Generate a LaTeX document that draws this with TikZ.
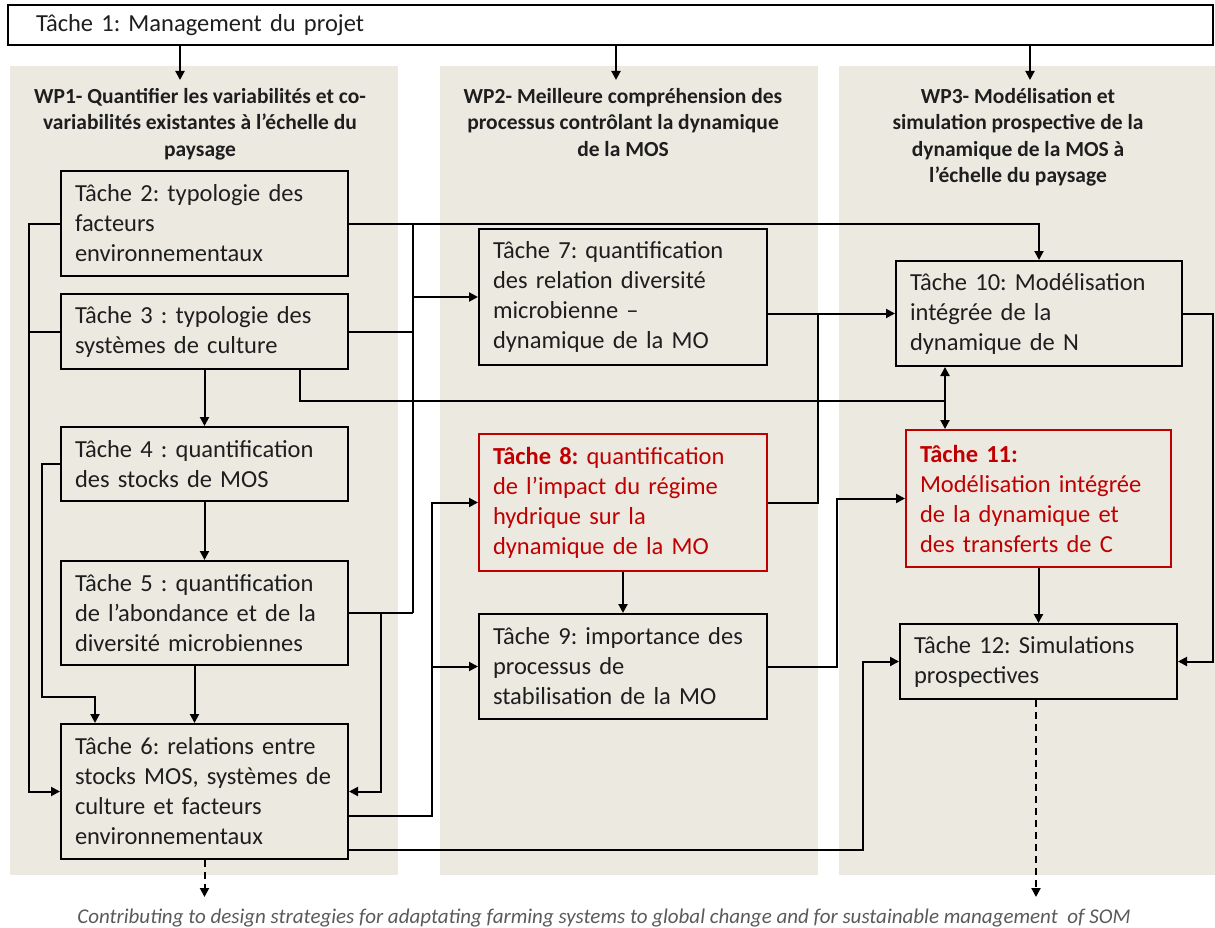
\documentclass[tikz,border=0pt]{standalone}
\usepackage{fontspec}
\setmainfont{Carlito}
\usetikzlibrary{arrows.meta}
\definecolor{panelc}{RGB}{236,233,225}
\definecolor{redc}{RGB}{192,0,0}
\definecolor{txtc}{RGB}{30,30,30}
\definecolor{footc}{RGB}{90,90,90}
\newcommand\tasksize{\fontsize{24.5}{30}\selectfont}
\newcommand\wpsize{\fontsize{21.5}{26.5}\selectfont}
\frenchspacing
\begin{document}
\frenchspacing
\begin{tikzpicture}[x=1pt,y=-1pt,
  task/.style={draw=black, line width=2pt, fill=panelc, inner xsep=14pt, inner ysep=0pt,
    align=left, font=\tasksize\frenchspacing, text=txtc},
  redtask/.style={task, draw=redc, text=redc},
  wptitle/.style={font=\bfseries\wpsize\frenchspacing, align=center, inner sep=0pt, text=txtc, anchor=north},
  line/.style={line width=2pt},
  arr/.style={line, -{Triangle[length=9pt,width=9pt]}},
  arrtwo/.style={line, {Triangle[length=9pt,width=9pt]}-{Triangle[length=9pt,width=9pt]}},
  dasharr/.style={arr, dash pattern=on 7pt off 5pt}]
\useasboundingbox (0,0) rectangle (1215,928);
% panels
\fill[panelc] (10,66) rectangle (398,875);
\fill[panelc] (440,66) rectangle (818,875);
\fill[panelc] (839,66) rectangle (1215,875);
% task 1
\node[task, fill=white, inner xsep=28pt, text width=1149pt, minimum height=40pt] (T1) at (610.5,25) {Tâche 1: Management du projet};
\coordinate (a1) at (180,80);
\coordinate (a2) at (616,80);
\coordinate (a3) at (1030,80);
\draw[arr] (T1.south -| a1) -- (a1);
\draw[arr] (T1.south -| a2) -- (a2);
\draw[arr] (T1.south -| a3) -- (a3);
% WP titles
\node[wptitle] (W1) at (200,88) {WP1- Quantifier les variabilités et co-\\variabilités existantes à l’échelle du\\paysage};
\node[wptitle] (W2) at (623,88) {WP2- Meilleure compréhension des\\processus contrôlant la dynamique\\de la MOS};
\node[wptitle] (W3) at (1018,88) {WP3- Modélisation et\\simulation prospective de la\\dynamique de la MOS à\\l’échelle du paysage};
% WP1 tasks
\node[task, text width=259pt, minimum height=105pt] (T2) at (204.5,223.5) {Tâche 2: typologie des\\facteurs\\environnementaux};
\node[task, text width=259pt, minimum height=75pt] (T3) at (204.5,331.5) {Tâche 3 : typologie des\\systèmes de culture};
\node[task, text width=259pt, minimum height=74pt] (T4) at (204.5,464) {Tâche 4 : quantification\\des stocks de MOS};
\node[task, text width=259pt, minimum height=104pt] (T5) at (204.5,613) {Tâche 5 : quantification\\de l’abondance et de la\\diversité microbiennes};
\node[task, text width=259pt, minimum height=135pt] (T6) at (204.5,791.5) {Tâche 6: relations entre\\stocks MOS, systèmes de\\culture et facteurs\\environnementaux};
% WP2 tasks
\node[task, text width=260pt, minimum height=136pt] (T7) at (623,297) {Tâche 7: quantification\\des relation diversité\\microbienne –\\dynamique de la MO};
\node[redtask, text width=260pt, minimum height=137pt] (T8) at (623,502.5) {\textbf{Tâche 8:} quantification\\de l’impact du régime\\hydrique sur la\\dynamique de la MO};
\node[task, text width=260pt, minimum height=105pt] (T9) at (623,666.5) {Tâche 9: importance des\\processus de\\stabilisation de la MO};
% WP3 tasks
\node[task, text width=258pt, minimum height=105pt] (T10) at (1039,313.5) {Tâche 10: Modélisation\\intégrée de la\\dynamique de N};
\node[redtask, text width=237pt, minimum height=137pt] (T11) at (1038.5,498.5) {\textbf{Tâche 11:}\\Modélisation intégrée\\de la dynamique et\\des transferts de C};
\node[task, text width=249pt, minimum height=75pt] (T12) at (1038.5,661.5) {Tâche 12: Simulations\\prospectives};
% bus coordinates
\coordinate (busA) at (29,0);
\coordinate (busB) at (42,0);
\coordinate (k1) at (95,697);
\coordinate (busC) at (413,0);
\coordinate (busD) at (381,0);
\coordinate (k2) at (945,401);
\coordinate (busE) at (818,0);
\coordinate (busF) at (432,0);
\coordinate (busG) at (863,0);
\coordinate (busH) at (837,0);
\coordinate (busI) at (1213,0);
\coordinate (r816) at (0,816);
\coordinate (r850) at (0,850);
\coordinate (e1) at (0,897);
% WP1 internal
\draw[arr] (T2.west) -- (T2.west -| busA) |- (T6.west);
\draw[line] (T3.west) -- (T3.west -| busA);
\draw[arr] (T4.west) -- (T4.west -| busB) |- (k1) -- (k1 |- T6.north);
\draw[arr] (T3.south) -- (T4.north);
\draw[arr] (T4.south) -- (T5.north);
\draw[arr] ([xshift=-10pt]T5.south) -- ([xshift=-10pt]T6.north);
% T2 to T10 and bus to T7
\draw[arr] (T2.east) -| (T10.north);
\draw[line] (busC |- T2.east) -- (busC |- T5.east);
\draw[line] (T3.east) -- (T3.east -| busC);
\draw[line] (T5.east) -- (T5.east -| busC);
\draw[arr] (busC |- T7.west) -- (T7.west);
\draw[arr] (T5.east -| busD) |- (T6.east);
% T3 to T10/T11
\draw[line] ([xshift=95pt]T3.south) |- (k2);
\draw[arrtwo] ([xshift=-94pt]T10.south) -- ([xshift=-94pt]T10.south |- T11.north);
% T7, T8 to T10
\draw[arr] (T7.east |- T10.west) -- (T10.west);
\draw[line] (T8.east) -| (busE |- T10.west);
\draw[arr] (T8.south) -- (T9.north);
% T6 to T8, T9
\draw[arr] (T6.east |- r816) -| (busF |- T8.west) -- (T8.west);
\draw[arr] (busF |- T9.west) -- (T9.west);
% T6 to T12
\draw[arr] (T6.east |- r850) -| (busG |- T12.west) -- (T12.west);
% T9 to T11
\draw[arr] (T9.east) -| (busH |- T11.west) -- (T11.west);
% WP3 internal
\draw[arr] (T11.south) -- (T11.south |- T12.north);
\draw[arr] (T10.east) -| (busI |- T12.east) -- (T12.east);
% outputs
\draw[dasharr] ([xshift=-2.5pt]T12.south) -- ([xshift=-2.5pt]T12.south |- e1);
\draw[dasharr] (T6.south) -- (T6.south |- e1);
\node[font=\itshape\fontsize{21}{25}\selectfont, text=footc, anchor=base, inner sep=0pt] (foot) at (604,923) {Contributing to design strategies for adaptating farming systems to global change and for sustainable management\ \ of SOM};
\end{tikzpicture}
\end{document}
